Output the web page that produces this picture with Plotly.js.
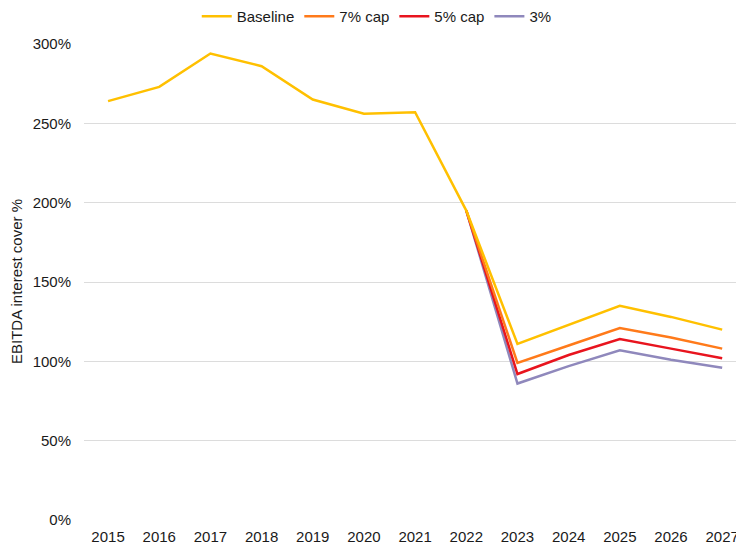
<!DOCTYPE html>
<html>
<head>
<meta charset="utf-8">
<script src="https://cdn.plot.ly/plotly-3.0.1.min.js"></script>
<style>html,body{margin:0;padding:0;background:#fff;}#chart{width:736px;height:546px;}</style>
</head>
<body>
<div id="chart"></div>
<script>
const years = [2015, 2016, 2017, 2018, 2019, 2020, 2021, 2022, 2023, 2024, 2025, 2026, 2027];
const baseline = [264, 273, 294, 286, 265, 256, 257, 195, 111, 123, 135, 128, 120];
const cap7 = [null, null, null, null, null, null, null, 195, 99, 110, 121, 115, 108];
const cap5 = [null, null, null, null, null, null, null, 195, 92, 104, 114, 108, 102];
const cap3 = [null, null, null, null, null, null, null, 195, 86, 97, 107, 101, 96];
const seriesNames = ["Baseline", "7% cap", "5% cap", "3%"];
const yTicks = [0, 50, 100, 150, 200, 250, 300];
const yTickLabels = ["0%", "50%", "100%", "150%", "200%", "250%", "300%"];
const yTitle = "EBITDA interest cover %";

const colors = ["#FFC000", "#FF7A1A", "#E8141E", "#8F88BC"];
const all = [baseline, cap7, cap5, cap3];
const order = [3, 2, 1, 0];
const traces = order.map(i => ({
  x: years, y: all[i], name: seriesNames[i], type: "scatter", mode: "lines",
  line: {color: colors[i], width: 2.5}, connectgaps: false
}));

const layout = {
  width: 736, height: 546,
  margin: {l: 84, r: 0, t: 44, b: 26},
  paper_bgcolor: "#fff", plot_bgcolor: "#fff",
  font: {family: "Liberation Sans, Arial, sans-serif", size: 15, color: "#1a1a1a"},
  showlegend: true,
  legend: {orientation: "h", x: 0.449, xanchor: "center", y: 1, yanchor: "top",
    yref: "container", traceorder: "reversed", font: {size: 15},
    itemwidth: 30, tracegroupgap: 0, bgcolor: "rgba(0,0,0,0)"},
  xaxis: {range: [2014.53, 2027.27], tickmode: "array", tickvals: years,
    ticktext: years.map(String), showgrid: false, zeroline: false, showline: false,
    ticks: "", tickfont: {size: 15}, ticklabeloverflow: "allow", ticklabelstandoff: 6,
    fixedrange: true},
  yaxis: {range: [0, 300], tickmode: "array", tickvals: yTicks, ticktext: yTickLabels,
    showgrid: true, gridcolor: "#DCDCDC", gridwidth: 1, zeroline: false, showline: false,
    ticks: "", tickfont: {size: 15}, ticklabelstandoff: 12, automargin: false},
  annotations: [{text: yTitle, xref: "paper", yref: "paper", x: -0.1043, y: 0.502,
    xanchor: "center", yanchor: "middle", textangle: -90, showarrow: false,
    font: {size: 15, color: "#1a1a1a"}}]
};
Plotly.newPlot("chart", traces, layout, {displayModeBar: false, staticPlot: true});
</script>
</body>
</html>
